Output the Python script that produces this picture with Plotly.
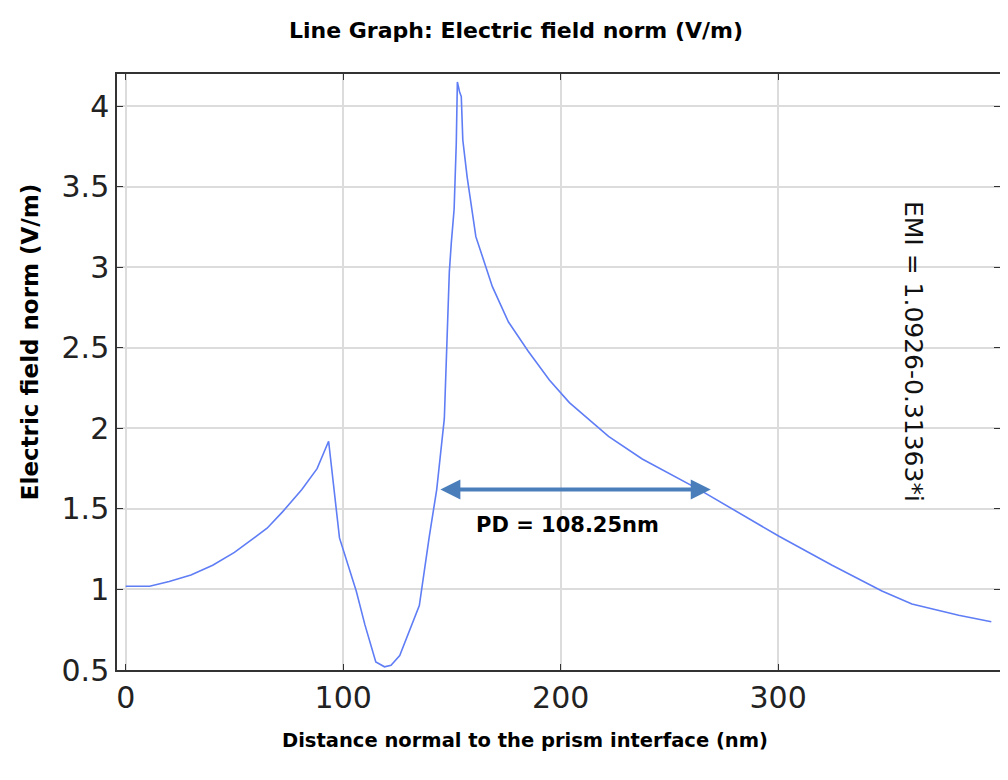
import plotly.graph_objects as go

distance_nm = [0, 11, 20, 30, 40, 50, 57, 65, 72, 81, 88, 93.3, 98.3, 102, 106, 110, 115, 119, 122,
               126, 130, 135, 139.6, 143, 146.5, 147.4, 148.8, 149.7, 151, 152, 152.5, 153.5, 154.3,
               155, 157, 161, 168.6, 176, 185, 194.8, 204, 222, 237.5, 263.7, 278.8, 300.4, 324.8,
               347.7, 361.5, 383, 398]
field_norm = [1.02, 1.02, 1.05, 1.09, 1.15, 1.23, 1.30, 1.38, 1.48, 1.62, 1.75, 1.92, 1.32, 1.16,
              0.99, 0.78, 0.55, 0.52, 0.53, 0.59, 0.73, 0.90, 1.33, 1.62, 2.06, 2.38, 2.97, 3.15,
              3.36, 3.77, 4.15, 4.09, 4.06, 3.79, 3.56, 3.19, 2.88, 2.66, 2.48, 2.30, 2.16, 1.95,
              1.81, 1.62, 1.50, 1.33, 1.15, 0.99, 0.91, 0.84, 0.80]

x_ticks = [0, 100, 200, 300]
y_ticks = [0.5, 1, 1.5, 2, 2.5, 3, 3.5, 4]
y_tick_text = ["0.5", "1", "1.5", "2", "2.5", "3", "3.5", "4"]

pd_start, pd_end, pd_level = 144, 269, 1.62
pd_label = "PD = 108.25nm"
emi_label = "EMI = 1.0926-0.31363*i"
title_text = "Line Graph: Electric field norm (V/m)"
x_title = "Distance normal to the prism interface (nm)"
y_title = "Electric field norm (V/m)"

fig = go.Figure()
fig.add_trace(go.Scatter(x=distance_nm, y=field_norm, mode="lines",
                         line=dict(color="rgb(95,125,245)", width=1.6), showlegend=False))

fig.add_annotation(x=pd_end, y=pd_level, ax=pd_start, ay=pd_level, xref="x", yref="y",
                   axref="x", ayref="y", text="", showarrow=True, arrowhead=2, arrowside="end+start",
                   arrowsize=1.0, arrowwidth=4, arrowcolor="#4a7ebb")
fig.add_annotation(x=203, y=1.40, xref="x", yref="y", text=pd_label, showarrow=False,
                   font=dict(family="DejaVu Sans", size=21, color="black", weight="bold"))
fig.add_annotation(x=362.5, y=2.48, xref="x", yref="y", text=emi_label, showarrow=False,
                   textangle=90, font=dict(family="DejaVu Sans", size=25, color="#111111"))

# axis titles placed as paper annotations to match their off-centre positions
fig.add_annotation(x=0.462, y=0, xref="paper", yref="paper", yshift=-70, yanchor="middle",
                   xanchor="center", text=x_title, showarrow=False,
                   font=dict(family="DejaVu Sans", size=19.5, color="black", weight="bold"))
fig.add_annotation(x=0, y=0.55, xref="paper", yref="paper", xshift=-87, xanchor="center",
                   yanchor="middle", text=y_title, textangle=-90, showarrow=False,
                   font=dict(family="DejaVu Sans", size=23, color="black", weight="bold"))

axis_common = dict(showline=True, linecolor="#333333", linewidth=1.5, mirror="allticks",
                   ticks="inside", ticklen=6, tickcolor="#333333", showgrid=True,
                   gridcolor="#dcdcdc", gridwidth=1.5, zeroline=False, automargin=False,
                   tickfont=dict(family="DejaVu Sans", size=30, color="#222222"))

fig.update_xaxes(range=[-4, 402], tickvals=x_ticks, **axis_common)
fig.update_yaxes(range=[0.5, 4.2], tickvals=y_ticks, ticktext=y_tick_text, **axis_common)

fig.update_layout(width=1000, height=772, paper_bgcolor="white", plot_bgcolor="white",
                  margin=dict(l=109, r=8, t=66, b=110),
                  title=dict(text=title_text, x=0.508, xanchor="center",
                             y=0.9715, yanchor="middle",
                             font=dict(family="DejaVu Sans", size=22, color="black", weight="bold")))

fig.write_html("out.html")
